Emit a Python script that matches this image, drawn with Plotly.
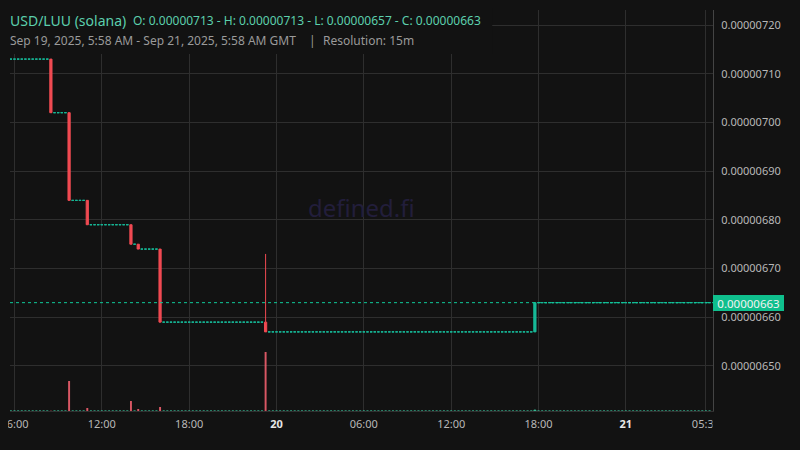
import pandas as pd
import plotly.graph_objects as go

# ---------------- data ----------------
slot_start = "2025-09-19 05:45"
slot_end = "2025-09-21 05:45"
first_open = 7.13e-6

move_times = ["2025-09-19 08:30", "2025-09-19 09:45", "2025-09-19 11:00", "2025-09-19 14:00",
              "2025-09-19 14:30", "2025-09-19 16:00", "2025-09-19 23:15", "2025-09-20 17:45"]
move_open = [7.13e-6, 7.02e-6, 6.84e-6, 6.79e-6, 6.75e-6, 6.74e-6, 6.59e-6, 6.57e-6]
move_high = [7.13e-6, 7.02e-6, 6.84e-6, 6.79e-6, 6.75e-6, 6.74e-6, 6.73e-6, 6.63e-6]
move_low = [7.02e-6, 6.84e-6, 6.79e-6, 6.75e-6, 6.74e-6, 6.59e-6, 6.57e-6, 6.57e-6]
move_close = [7.02e-6, 6.84e-6, 6.79e-6, 6.75e-6, 6.74e-6, 6.59e-6, 6.57e-6, 6.63e-6]
move_volume = [0.3, 30, 3, 10, 2, 4, 59, 1]   # relative volume units

last_price = 6.63e-6

tick_times = ["2025-09-19 06:00", "2025-09-19 12:00", "2025-09-19 18:00", "2025-09-20 00:00",
              "2025-09-20 06:00", "2025-09-20 12:00", "2025-09-20 18:00", "2025-09-21 00:00",
              "2025-09-21 05:30"]
tick_labels = ["06:00", "12:00", "18:00", "<b><span style='color:#e6e6e6'>20</span></b>",
               "06:00", "12:00", "18:00", "<b><span style='color:#e6e6e6'>21</span></b>", "05:30"]

# ---------------- build 15m candle series ----------------
slots = pd.date_range(slot_start, slot_end, freq="15min")
move_index = {pd.Timestamp(t): i for i, t in enumerate(move_times)}

dn = dict(x=[], o=[], h=[], l=[], c=[], v=[])
up = dict(x=[], o=[], h=[], l=[], c=[], v=[])
prev = first_open
for t in slots:
    if t in move_index:
        i = move_index[t]
        o, h, l, c, v = move_open[i], move_high[i], move_low[i], move_close[i], move_volume[i]
    else:
        o = h = l = c = prev
        v = 0
    d = dn if c < o else up
    d["x"].append(t); d["o"].append(o); d["h"].append(h); d["l"].append(l); d["c"].append(c); d["v"].append(v)
    prev = c

BG = "#121212"
GRID = "#2e2e2e"
RED = "#f04a52"
TEAL = "#17b897"

fig = go.Figure()
fig.add_trace(go.Candlestick(
    x=up["x"], open=up["o"], high=up["h"], low=up["l"], close=up["c"],
    increasing=dict(line=dict(color=TEAL, width=1), fillcolor=TEAL),
    decreasing=dict(line=dict(color=TEAL, width=1), fillcolor=TEAL),
    whiskerwidth=0, hoverinfo="skip"))
fig.add_trace(go.Candlestick(
    x=dn["x"], open=dn["o"], high=dn["h"], low=dn["l"], close=dn["c"],
    increasing=dict(line=dict(color=RED, width=1), fillcolor=RED),
    decreasing=dict(line=dict(color=RED, width=1), fillcolor=RED),
    whiskerwidth=0, hoverinfo="skip"))

bar_w = 8 * 60 * 1000
fig.add_trace(go.Bar(x=up["x"], y=up["v"], yaxis="y2", width=bar_w,
                     marker=dict(color="rgba(60,200,160,0.75)", line=dict(color="rgba(60,200,160,0.75)", width=1)),
                     hoverinfo="skip"))
fig.add_trace(go.Bar(x=dn["x"], y=dn["v"], yaxis="y2", width=bar_w,
                     marker=dict(color="rgba(240,95,110,0.9)", line=dict(width=0)),
                     hoverinfo="skip"))

# page has an 8px body margin: convert page px to figure px
OFF = 8
FW, FH = 800, 450
L, R, T, B = 10 - OFF, 712.7 - OFF, 10 - OFF, 411 - OFF
W, H = R - L, B - T


def px(xp):
    """page x pixel -> paper x"""
    return (xp - OFF - L) / W


def py(yp):
    """page y pixel -> paper y"""
    return (B - (yp - OFF)) / H


shapes = [
    dict(type="line", xref="paper", x0=0, x1=1, yref="y", y0=last_price, y1=last_price,
         line=dict(color="#10c99a", width=1, dash="dot"), layer="above"),
    dict(type="rect", xref="paper", yref="paper", x0=px(0), x1=px(492), y0=py(54), y1=py(0),
         fillcolor=BG, line=dict(width=0), layer="above"),
    dict(type="rect", xref="paper", yref="paper", x0=px(712.2), x1=px(810), y0=py(460), y1=py(412.5),
         fillcolor=BG, line=dict(width=0), layer="above"),
]


def label(xp, yp, text, size, color, anchor="left"):
    return dict(xref="paper", yref="paper", x=px(xp), y=py(yp), xanchor=anchor, yanchor="middle",
                showarrow=False, text=text, borderpad=0,
                font=dict(family="Noto Sans", size=size, color=color))


annotations = [
    label(9, 20, "USD/LUU (solana)", 14, "#5ccfad"),
    label(131.7, 20, "O: 0.00000713 - H: 0.00000713 - L: 0.00000657 - C: 0.00000663", 12, "#5ccfad"),
    label(9, 41, "Sep 19, 2025, 5:58 AM - Sep 21, 2025, 5:58 AM GMT", 12, "#9a9a9a"),
    label(307.5, 41, "|", 12, "#9a9a9a"),
    label(322, 41, "Resolution: 15m", 12, "#9a9a9a"),
    dict(xref="paper", yref="paper", x=0.5, y=py(207), xanchor="center", yanchor="middle", showarrow=False,
         text="defined.fi", font=dict(family="Noto Sans", size=24, color="#221e3b")),
    dict(xref="paper", yref="y", x=1.0, y=last_price, xanchor="left", yanchor="middle", showarrow=False,
         text="0.00000663", font=dict(family="Noto Sans", size=11.5, color="#f2f2f2"),
         bgcolor="#0fbf8d", bordercolor="#0fbf8d", borderwidth=1, borderpad=0, width=69, height=14),
]

fig.update_layout(
    width=FW, height=FH,
    margin=dict(l=L, r=FW - R, t=T, b=FH - B, autoexpand=False),
    paper_bgcolor=BG, plot_bgcolor=BG, showlegend=False,
    boxgap=0.22, boxgroupgap=0.22, boxmode="overlay", barmode="overlay",
    font=dict(family="Noto Sans", size=11, color="#b8b8b8"),
    xaxis=dict(type="date", range=["2025-09-19 05:41:26", "2025-09-21 05:59:10"],
               tickmode="array", tickvals=tick_times, ticktext=tick_labels,
               showgrid=True, gridcolor=GRID, gridwidth=1, zeroline=False,
               showline=True, linecolor="#303030", linewidth=1,
               ticks="", ticklabelstandoff=3, ticklabeloverflow="allow", automargin=False,
               rangeslider=dict(visible=False), fixedrange=True),
    yaxis=dict(side="right", range=[6.4076e-6, 7.2308e-6], tick0=0, dtick=1e-7,
               tickformat=".8f", showgrid=True, gridcolor=GRID, gridwidth=1, zeroline=False,
               showline=True, linecolor="#444444", linewidth=1,
               ticks="", ticklabelstandoff=5, automargin=False, fixedrange=True),
    yaxis2=dict(overlaying="y", range=[0, H], visible=False, fixedrange=True),
    shapes=shapes, annotations=annotations,
)

fig.write_html("out.html",
               post_script="document.body.style.background='#121212';"
                           "document.documentElement.style.background='#121212';")
